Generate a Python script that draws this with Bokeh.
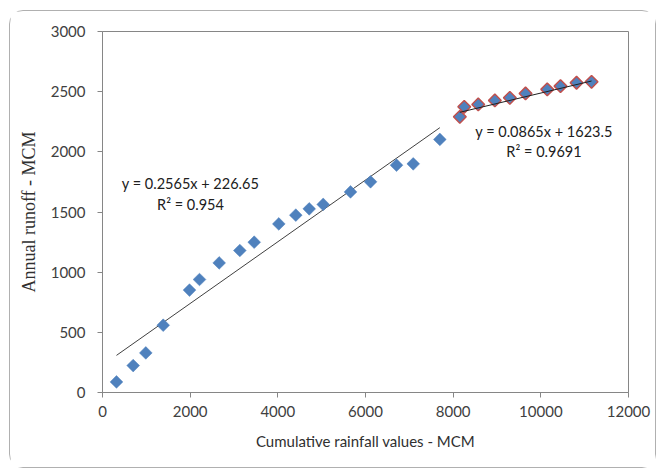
import numpy as np
from bokeh.plotting import figure
from bokeh.models import Range1d, FixedTicker
from bokeh.core.properties import value
from bokeh.embed import file_html
from bokeh.resources import INLINE

# Series 1 (blue diamonds)
rain1 = [319, 700, 988, 1385, 1985, 2213, 2662, 3133, 3461, 4022, 4410, 4716,
         5035, 5658, 6115, 6708, 7089, 7696]
runoff1 = [88, 224, 329, 559, 851, 939, 1077, 1180, 1249, 1401, 1474, 1526,
           1563, 1667, 1751, 1889, 1900, 2103]

# Series 2 (blue diamonds with red outline)
rain2 = [8152, 8253, 8572, 8951, 9293, 9651, 10146, 10449, 10815, 11157]
runoff2 = [2291, 2374, 2394, 2427, 2449, 2485, 2519, 2546, 2574, 2582]

# Trendline equations shown on the chart
slope1, icpt1, r2_1 = 0.2565, 226.65, 0.954
slope2, icpt2, r2_2 = 0.0865, 1623.5, 0.9691

x_ticks = [0, 2000, 4000, 6000, 8000, 10000, 12000]
y_ticks = [0, 500, 1000, 1500, 2000, 2500, 3000]

W, H = 647, 458
p = figure(width=W, height=H, output_backend="svg", toolbar_location=None,
           x_range=Range1d(0, 12000), y_range=Range1d(0, 3000),
           min_border_left=92, min_border_right=29, min_border_top=20,
           min_border_bottom=77)
p.styles = {"border": "1px solid #b0b0b0", "border-radius": "14px",
            "margin-left": "9px", "margin-top": "10px"}
p.background_fill_color = "white"
p.border_fill_color = "white"
p.outline_line_color = "#868686"
p.outline_line_width = 1
p.xgrid.grid_line_color = None
p.ygrid.grid_line_color = None

for ax in (p.xaxis[0], p.yaxis[0]):
    ax.axis_line_color = "#868686"
    ax.major_tick_line_color = "#868686"
    ax.major_tick_out = 5
    ax.major_tick_in = 0
    ax.minor_tick_line_color = None
    ax.major_label_text_font = "Lato"
    ax.major_label_text_font_size = "15px"
    ax.major_label_text_color = "#404040"

p.xaxis.ticker = FixedTicker(ticks=x_ticks)
p.yaxis.ticker = FixedTicker(ticks=y_ticks)
p.xaxis.major_label_standoff = 8
p.yaxis.major_label_standoff = 12

p.xaxis.axis_label = "Cumulative rainfall values - MCM"
p.xaxis.axis_label_text_font = "Lato"
p.xaxis.axis_label_text_font_style = "normal"
p.xaxis.axis_label_text_font_size = "15px"
p.xaxis.axis_label_text_color = "#303030"
p.xaxis.axis_label_standoff = 12

p.yaxis.axis_label = "Annual runoff - MCM"
p.yaxis.axis_label_text_font = "Liberation Serif"
p.yaxis.axis_label_text_font_style = "normal"
p.yaxis.axis_label_text_font_size = "18px"
p.yaxis.axis_label_text_color = "#303030"
p.yaxis.axis_label_standoff = 9

# Trendlines over each series' data range
tx1 = np.array([min(rain1), max(rain1)])
tx2 = np.array([min(rain2), max(rain2)])
p.line(tx1, slope1 * tx1 + icpt1, line_color="#404040", line_width=1)

p.scatter(rain1, runoff1, marker="square", angle=np.pi / 4, size=9,
          fill_color="#4F81BD", line_color="#4F81BD", line_width=0.5)
p.scatter(rain2, runoff2, marker="square", angle=np.pi / 4, size=9,
          fill_color="#4F81BD", line_color="#C0504D", line_width=1.5)
p.line(tx2, slope2 * tx2 + icpt2, line_color="#202020", line_width=1)

# Equation labels
eq_x = [2008, 2008, 10072, 10072]
eq_y = [1734, 1565, 2166, 2000]
eq_t = [f"y = {slope1}x + {icpt1}", f"R\u00b2 = {r2_1}",
        f"y = {slope2}x + {icpt2}", f"R\u00b2 = {r2_2}"]
p.text(eq_x, eq_y, text=eq_t, text_font=value("Lato"), text_font_size="14.5px",
       text_align="center", text_baseline="middle", text_color="#202020")

open("out.html", "w").write(file_html(p, INLINE))
